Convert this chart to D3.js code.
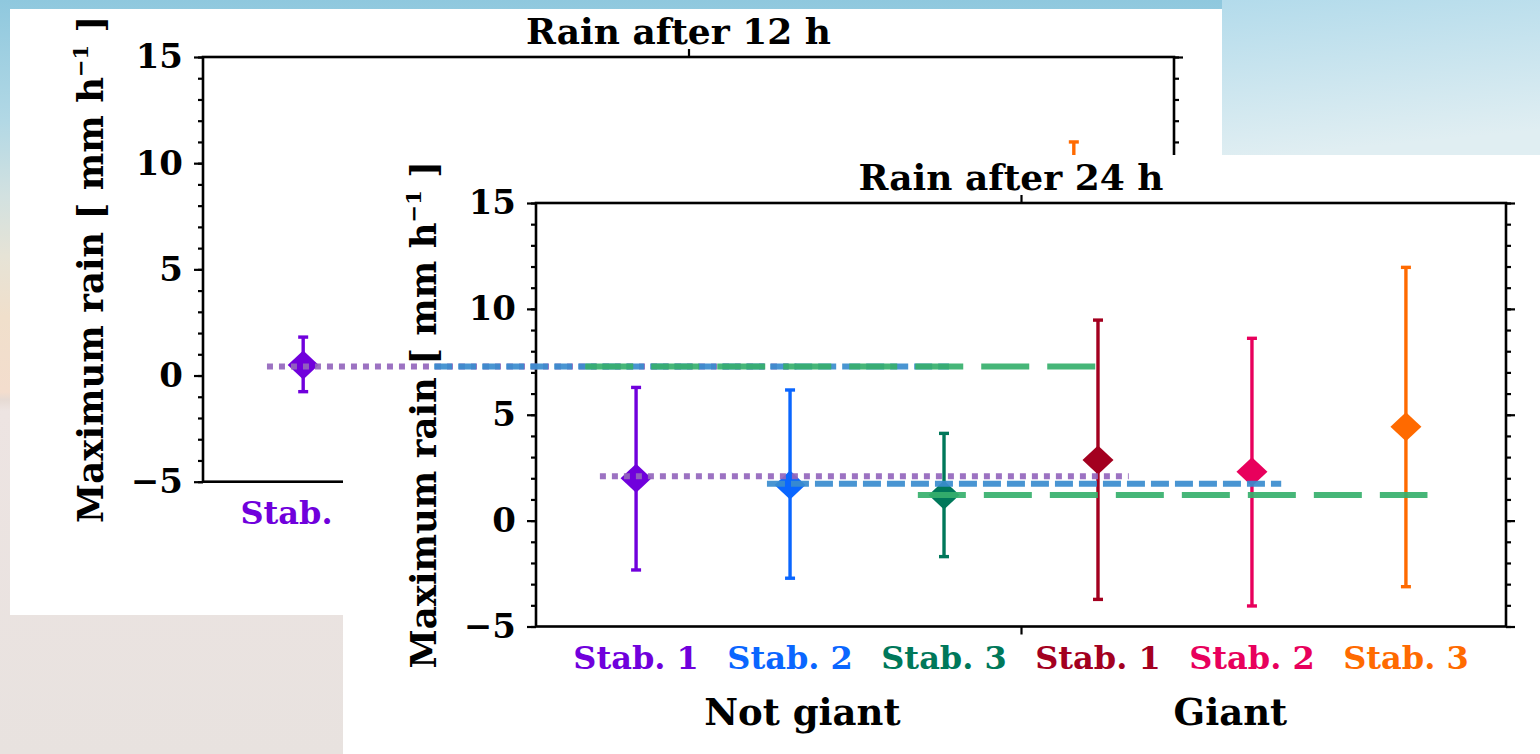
<!DOCTYPE html>
<html>
<head>
<meta charset="utf-8">
<script src="https://cdn.jsdelivr.net/npm/d3@7"></script>
<style>
  html, body { margin: 0; padding: 0; overflow: hidden; }
  svg { display: block; }
  text { font-family: "DejaVu Serif", serif; font-weight: bold; }
</style>
</head>
<body>
<svg id="chart" width="1540" height="754"></svg>
<script>
// ---- data ----
const categories = ["Stab. 1", "Stab. 2", "Stab. 3", "Stab. 1", "Stab. 2", "Stab. 3"];
const catColors = ["#7000dc", "#0a66ff", "#00785a", "#a3001f", "#e8005c", "#ff6a00"];
const groups = ["Not giant", "Giant"];
const yTicks = [-5, 0, 5, 10, 15];

// Rain after 24 h (front panel)
const rain24 = [2.0, 1.68, 1.21, 2.86, 2.31, 4.43];
const rain24Low = [-2.33, -2.72, -1.7, -3.72, -4.03, -3.12];
const rain24High = [6.29, 6.17, 4.12, 9.47, 8.61, 11.96];
const mean24 = [2.1, 1.74, 1.21];

// Rain after 12 h (back panel, mostly covered by the 24 h one)
const rain12 = [0.49, null, null, null, null, null];
const rain12Low = [-0.76, null, null, null, null, null];
const rain12High = [1.81, null, null, null, null, 11.0];
const mean12 = [0.43, 0.43, 0.43];

const meanColors = ["#9467bd", "#3a8dcf", "#37b06d"];
const meanDash = ["6,6", "18,6", "48,18"];

const svg = d3.select("#chart");
const W = 1540, H = 754;

// ---- background ----
const defs = svg.append("defs");
const bg = defs.append("linearGradient").attr("id", "bg")
  .attr("x1", 0).attr("y1", 0).attr("x2", 0).attr("y2", 1);
[[0, "#8fc8de"], [0.16, "#b2d8e5"], [0.26, "#d2e1e0"], [0.34, "#e6e3d6"],
 [0.42, "#f0dfcb"], [0.52, "#f3ddcd"], [0.53, "#e6dad3"], [0.545, "#ede4e2"], [1, "#e8e2df"]]
  .forEach(s => bg.append("stop").attr("offset", s[0]).attr("stop-color", s[1]));
const bgTR = defs.append("linearGradient").attr("id", "bgTR")
  .attr("x1", 0).attr("y1", 0).attr("x2", 0.2).attr("y2", 1);
bgTR.append("stop").attr("offset", 0).attr("stop-color", "#b3dbeb");
bgTR.append("stop").attr("offset", 1).attr("stop-color", "#e0eef2");

svg.append("rect").attr("width", W).attr("height", H).attr("fill", "url(#bg)");
svg.append("rect").attr("x", 1222).attr("y", 0).attr("width", 318).attr("height", 155)
  .attr("fill", "url(#bgTR)");

// mean lines span from index i + a to i + b
const lineSpan = [[-0.235, 3.2], [-0.15, 3.19], [-0.17, 3.14]];

function makeScales(box) {
  const x = d3.scaleLinear().domain([-0.65, 5.65]).range([box.left, box.right]);
  const y = d3.scaleLinear().domain([-5, 15]).range([box.bottom, box.top]);
  return { x, y };
}

// opts.cats / opts.groups: which x labels are drawn (hidden ones are skipped)
function drawPanel(g, box, title, vals, low, high, opts) {
  const { x, y } = makeScales(box);

  // minor + major ticks, left and right
  const minor = d3.range(-5, 16, 1);
  g.append("g").attr("transform", `translate(${box.left},0)`)
    .call(d3.axisLeft(y).tickValues(minor).tickSize(5).tickFormat(""))
    .call(a => a.select(".domain").remove());
  g.append("g").attr("transform", `translate(${box.right},0)`)
    .call(d3.axisRight(y).tickValues(minor).tickSize(5).tickFormat(""))
    .call(a => a.select(".domain").remove());
  g.append("g").attr("transform", `translate(${box.right},0)`)
    .call(d3.axisRight(y).tickValues(yTicks).tickSize(9).tickFormat(""))
    .call(a => a.select(".domain").remove());
  const left = g.append("g").attr("transform", `translate(${box.left},0)`)
    .call(d3.axisLeft(y).tickValues(yTicks).tickSize(9).tickPadding(11));
  left.select(".domain").remove();
  left.selectAll("text").attr("font-size", 34).attr("fill", "#000")
    .style("font-family", "'DejaVu Serif', serif").style("font-weight", "bold");
  g.selectAll(".tick line").attr("stroke", "#000").attr("stroke-width", 2.2);

  // group separator ticks top/bottom
  g.append("g").attr("transform", `translate(0,${box.bottom})`)
    .call(d3.axisBottom(x).tickValues([2.5]).tickSize(8).tickFormat(""))
    .call(a => a.select(".domain").remove())
    .selectAll("line").attr("stroke-width", 2.2);
  g.append("g").attr("transform", `translate(0,${box.top})`)
    .call(d3.axisTop(x).tickValues([2.5]).tickSize(8).tickFormat(""))
    .call(a => a.select(".domain").remove())
    .selectAll("line").attr("stroke-width", 2.2);

  // frame
  g.append("rect")
    .attr("x", box.left).attr("y", box.top)
    .attr("width", box.right - box.left).attr("height", box.bottom - box.top)
    .attr("fill", "none").attr("stroke", "#000").attr("stroke-width", 2.6);

  // title
  g.append("text")
    .attr("x", (box.left + box.right) / 2 - 10).attr("y", box.top - 13)
    .attr("text-anchor", "middle").attr("font-size", 36)
    .text(title);

  // y label
  const yl = g.append("text")
    .attr("transform", `translate(${box.left - 100},${(box.top + box.bottom) / 2}) rotate(-90)`)
    .attr("text-anchor", "middle").attr("font-size", 35.5);
  yl.append("tspan").text("Maximum rain [ mm h");
  yl.append("tspan").attr("font-size", 21).attr("dy", -15).text("−1");
  yl.append("tspan").attr("dy", 15).text(" ]");

  // category labels
  g.selectAll(".cat").data(opts.cats).enter().append("text")
    .attr("x", i => x(i)).attr("y", box.bottom + 42)
    .attr("text-anchor", "middle").attr("font-size", 32)
    .attr("fill", i => catColors[i])
    .text(i => categories[i]);

  // group labels
  const groupPos = [1.08, 3.86];
  g.selectAll(".grp").data(opts.groups).enter().append("text")
    .attr("x", i => x(groupPos[i])).attr("y", box.bottom + 98)
    .attr("text-anchor", "middle").attr("font-size", 37)
    .text(i => groups[i]);

  // error bars
  const idx = d3.range(categories.length);
  idx.forEach(i => {
    if (high[i] == null) return;
    const yHi = y(high[i]);
    const yLo = low[i] == null ? y(-5) : y(low[i]);
    g.append("line")
      .attr("x1", x(i)).attr("x2", x(i)).attr("y1", yHi).attr("y2", yLo)
      .attr("stroke", catColors[i]).attr("stroke-width", 3.4);
    g.append("line")
      .attr("x1", x(i) - 5).attr("x2", x(i) + 5).attr("y1", yHi).attr("y2", yHi)
      .attr("stroke", catColors[i]).attr("stroke-width", 3.4);
    if (low[i] != null) {
      g.append("line")
        .attr("x1", x(i) - 5).attr("x2", x(i) + 5).attr("y1", yLo).attr("y2", yLo)
        .attr("stroke", catColors[i]).attr("stroke-width", 3.4);
    }
  });

  // diamonds
  g.selectAll(".pt").data(idx.filter(i => vals[i] != null)).enter().append("path")
    .attr("transform", i => `translate(${x(i)},${y(vals[i])})`)
    .attr("d", "M0,-14.5L15.5,0L0,14.5L-15.5,0Z")
    .attr("fill", i => catColors[i]);

  return { x, y };
}

function drawMeans(g, sc, means) {
  means.forEach((m, k) => {
    g.append("line")
      .attr("x1", sc.x(k + lineSpan[k][0])).attr("x2", sc.x(k + lineSpan[k][1]))
      .attr("y1", sc.y(m)).attr("y2", sc.y(m))
      .attr("stroke", meanColors[k]).attr("stroke-width", 6)
      .attr("stroke-dasharray", meanDash[k])
      .attr("opacity", 0.92);
  });
}

// ---- back panel: rain after 12 h ----
const back = svg.append("g");
back.append("rect").attr("x", 10).attr("y", 9).attr("width", 1212).attr("height", 606).attr("fill", "#fff");
const backBox = { left: 203, right: 1174, top: 57, bottom: 481.7 };
// only the first x label peeks out from under the 24 h panel
const backSc = drawPanel(back, backBox, "Rain after 12 h", rain12, rain12Low, rain12High,
  { cats: [0], groups: [] });

// ---- front panel: rain after 24 h ----
const front = svg.append("g");
front.append("rect").attr("x", 343).attr("y", 155).attr("width", 1197).attr("height", 599).attr("fill", "#fff");
const frontBox = { left: 536, right: 1506, top: 203, bottom: 626.5 };
const frontSc = drawPanel(front, frontBox, "Rain after 24 h", rain24, rain24Low, rain24High,
  { cats: d3.range(categories.length), groups: [0, 1] });
drawMeans(front, frontSc, mean24);

// the 12 h reference lines sit on top of everything
drawMeans(svg.append("g"), backSc, mean12);
</script>
</body>
</html>
